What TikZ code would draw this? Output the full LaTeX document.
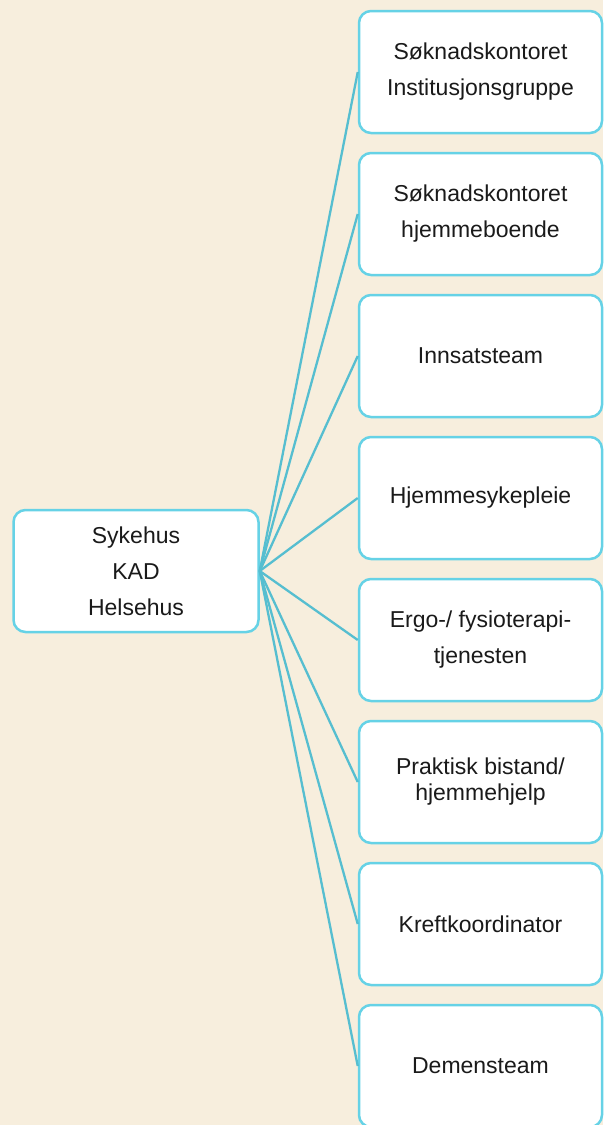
\documentclass[tikz,border=0pt]{standalone}
\usepackage{fontspec}
\setmainfont{Liberation Sans}
\usetikzlibrary{positioning}
\definecolor{bakgrunn}{RGB}{247,238,221}
\definecolor{rammecyan}{RGB}{102,210,230}
\definecolor{linjecyan}{RGB}{86,190,208}
\definecolor{tekstsvart}{RGB}{26,26,26}

\begin{document}
\begin{tikzpicture}[x=1pt,y=1pt,yscale=-1,
  boks/.style={draw=rammecyan, line width=2.5pt, rounded corners=12pt, fill=white,
    minimum width=243pt, minimum height=122pt, align=center, text=tekstsvart,
    font=\fontsize{23}{36}\selectfont},
  kobling/.style={draw=linjecyan, line width=2.3pt}]
%set diagram size 603 x 1125
\fill[bakgrunn] (0,0) rectangle (603,1125);
\useasboundingbox (0,0) rectangle (603,1125);

% Left box
\node[boks, minimum width=245pt] (hub) at (136,571) {Sykehus\\KAD\\Helsehus};

% Right boxes
\foreach \n/\y/\tekst in {1/72/{Søknadskontoret\\Institusjonsgruppe},
    2/214/{Søknadskontoret\\hjemmeboende},
    3/356/{Innsatsteam},
    4/498/{Hjemmesykepleie},
    5/640/{Ergo-/ fysioterapi-\\tjenesten},
    6/782/{Praktisk bistand/\\[-10pt]hjemmehjelp},
    7/924/{Kreftkoordinator},
    8/1066/{Demensteam}}
  \node[boks] (r\n) at (480.5,\y) {\tekst};

% Connectors
\foreach \n in {1,...,8}
  \draw[kobling] (hub.east) -- (r\n.west);

\end{tikzpicture}
\end{document}
